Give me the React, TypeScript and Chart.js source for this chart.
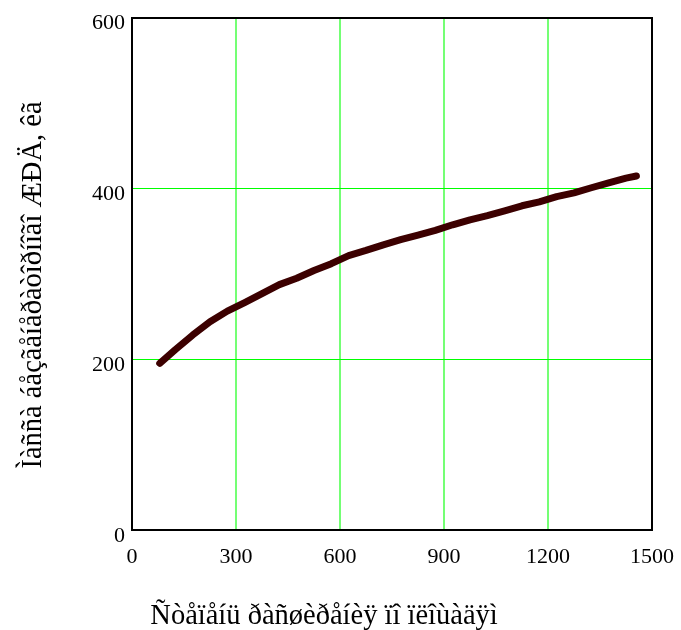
import React, { useEffect, useRef } from 'react';
import { Chart, registerables } from 'chart.js';

Chart.register(...registerables);

// Expansion ratio (x) and engine mass in kg (y)
const expansionRatio = [80, 125, 175, 225, 275, 325, 375, 425, 475, 525, 575, 625, 675, 725, 775, 825, 875, 925, 975, 1025, 1075, 1125, 1175, 1225, 1275, 1325, 1375, 1425, 1455];
const engineMass = [195, 211, 228, 243.5, 256, 266, 276.5, 287, 294.5, 303.5, 311.5, 321, 327, 333.5, 339.5, 345, 350.5, 357, 362.8, 367.7, 373.3, 379.2, 383.8, 390, 394.3, 400.3, 406, 411.5, 414];

const xTickValues = [0, 300, 600, 900, 1200, 1500];
const yTickValues = [0, 200, 400, 600];

const xTitle = 'Ñòåïåíü ðàñøèðåíèÿ ïî ïëîùàäÿì';
const yTitle = 'Ìàññà áåçãåíåðàòîðíîãî ÆÐÄ, êã';

const FONT = '"Liberation Serif", "Times New Roman", serif';

const framePlugin = {
  id: 'frame',
  beforeDatasetsDraw(chart: any) {
    const { ctx, chartArea } = chart;
    const { left, top, right, bottom } = chartArea;
    ctx.save();
    ctx.strokeStyle = '#000000';
    ctx.lineWidth = 2;
    ctx.strokeRect(left, top + 1, right - left, bottom - top - 1);
    ctx.restore();
  },
};

const titlePlugin = {
  id: 'axisTitles',
  afterDraw(chart: any) {
    const { ctx } = chart;
    ctx.save();
    ctx.fillStyle = '#000000';
    ctx.font = `28.5px ${FONT}`;
    ctx.textAlign = 'center';
    ctx.textBaseline = 'alphabetic';
    ctx.fillText(xTitle, 324, 624);
    ctx.translate(41, 285);
    ctx.rotate(-Math.PI / 2);
    ctx.fillText(yTitle, 0, 0);
    ctx.restore();
  },
};

export default function App() {
  const canvasRef = useRef<HTMLCanvasElement | null>(null);

  useEffect(() => {
    const canvas = canvasRef.current;
    if (!canvas) return;
    const chart = new Chart(canvas, {
      type: 'line',
      data: {
        datasets: [
          {
            data: expansionRatio.map((x, i) => ({ x, y: engineMass[i] })),
            borderColor: '#3c0000',
            borderWidth: 7,
            pointRadius: 0,
            tension: 0,
            borderCapStyle: 'round',
            borderJoinStyle: 'round',
            fill: false,
          },
        ],
      },
      options: {
        responsive: false,
        animation: false,
        devicePixelRatio: 1,
        layout: { padding: { top: 17, right: 29, left: 0, bottom: 0 } },
        plugins: {
          legend: { display: false },
          tooltip: { enabled: false },
          title: { display: false },
        },
        scales: {
          x: {
            type: 'linear',
            min: 0,
            max: 1500,
            afterBuildTicks: (scale: any) => {
              scale.ticks = xTickValues.map((v) => ({ value: v }));
            },
            afterFit: (scale: any) => {
              scale.height = 100;
              scale.paddingLeft = 0;
              scale.paddingRight = 0;
            },
            border: { display: false },
            grid: {
              drawTicks: false,
              lineWidth: 2,
              color: '#74ff74',
            },
            ticks: {
              color: '#000000',
              padding: 14,
              maxRotation: 0,
              font: { family: FONT, size: 22 },
              callback: (v: any) => String(v),
            },
          },
          y: {
            type: 'linear',
            min: 0,
            max: 600,
            afterBuildTicks: (scale: any) => {
              scale.ticks = yTickValues.map((v) => ({ value: v }));
            },
            afterFit: (scale: any) => {
              scale.width = 132;
              scale.paddingTop = 0;
              scale.paddingBottom = 0;
            },
            border: { display: false },
            grid: {
              drawTicks: false,
              lineWidth: 1,
              color: '#00ff00',
            },
            ticks: {
              color: '#000000',
              padding: 7,
              labelOffset: 6,
              font: { family: FONT, size: 22 },
              callback: (v: any) => String(v),
            },
          },
        },
      },
      plugins: [framePlugin, titlePlugin],
    });
    return () => chart.destroy();
  }, []);

  return (
    <div style={{ position: 'absolute', left: 0, top: 0, width: 681, height: 630, background: '#ffffff' }}>
      <canvas ref={canvasRef} width={681} height={630} style={{ display: 'block' }} />
    </div>
  );
}
